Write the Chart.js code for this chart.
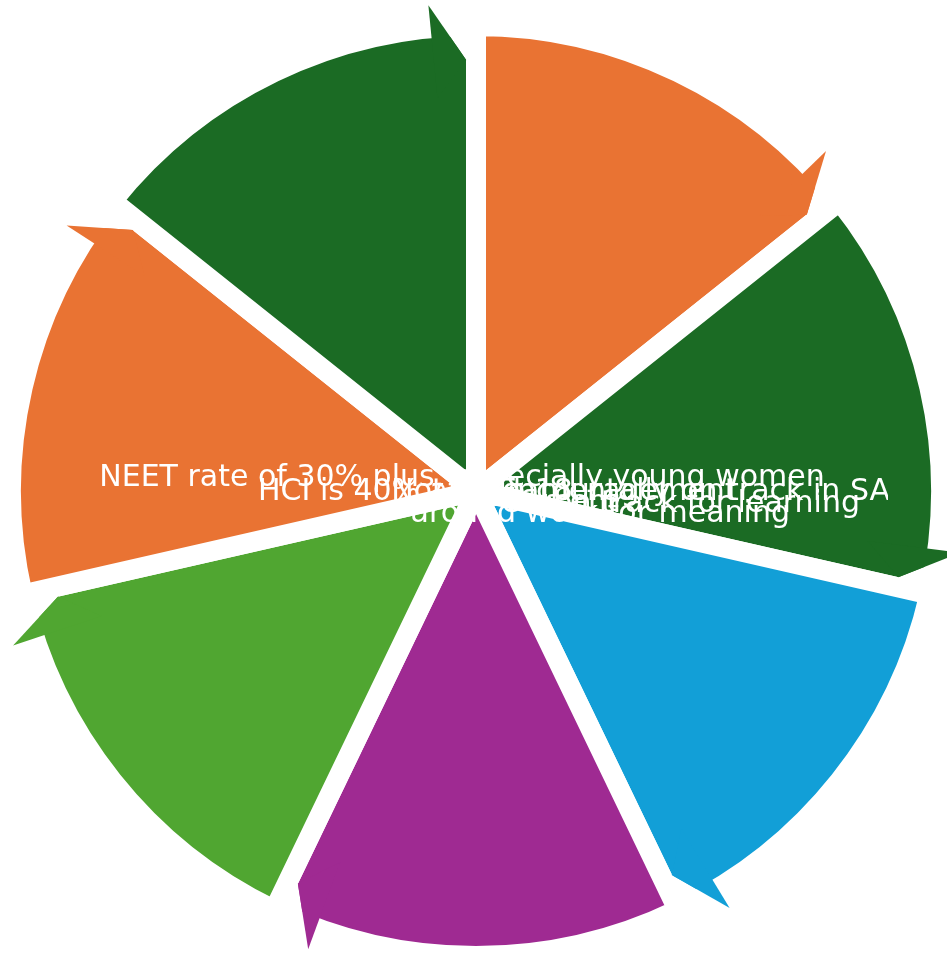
<!DOCTYPE html>
<html>
<head>
<meta charset="utf-8">
<script src="https://cdn.jsdelivr.net/npm/chart.js@4/dist/chart.umd.min.js"></script>
<style>
  html, body { margin: 0; padding: 0; background: #fff; }
  #wrap { width: 947px; height: 953px; }
</style>
</head>
<body>
<div id="wrap"><canvas id="pie"></canvas></div>
<script>
// seven equal segments, clockwise from 12 o'clock
var categories = [
    'NEET rate of 30% plus, especially young women',
    'Not fundamentally on track in SA',
    'Few on track for learning',
    'around work for meaning',
    'HCI is 40% at age 18',
    'Encouragement',
    'Percent'
];
var shares = [1, 1, 1, 1, 1, 1, 1];
var colours = ['#E97333', '#1B6B24', '#129FD7', '#9F2A92', '#50A631', '#E97333', '#1B6B24'];

function pt(cx, cy, a, r) {
    return [cx + Math.cos(a) * r, cy + Math.sin(a) * r];
}

// arrow head at the clockwise end of every segment
var arrowPlugin = {
    id: 'arrows',
    afterDatasetsDraw: function(chart) {
        var ctx = chart.ctx;
        var deg = Math.PI / 180;
        chart.getDatasetMeta(0).data.forEach(function(arc, i) {
            var cx = arc.x, cy = arc.y;
            var r = arc.outerRadius - 10;
            var end = arc.endAngle;
            var b = end - 5.6 * deg;
            var baseOut = pt(cx, cy, b, r + 33);
            var baseIn = pt(cx, cy, b, r - 60);
            var tip = pt(cx, cy, end - 1.3 * deg, r - 24);

            // cut the corner off
            ctx.save();
            ctx.fillStyle = '#fff';
            ctx.beginPath();
            ctx.moveTo.apply(ctx, pt(cx, cy, b, r + 70));
            ctx.lineTo.apply(ctx, pt(cx, cy, end, r + 70));
            ctx.lineTo.apply(ctx, pt(cx, cy, end, r - 24));
            ctx.lineTo.apply(ctx, tip);
            ctx.lineTo.apply(ctx, baseOut);
            ctx.closePath();
            ctx.fill();

            ctx.fillStyle = colours[i];
            ctx.beginPath();
            ctx.moveTo.apply(ctx, baseIn);
            ctx.lineTo.apply(ctx, baseOut);
            ctx.lineTo.apply(ctx, tip);
            ctx.closePath();
            ctx.fill();
            ctx.restore();
        });
    },
    afterDraw: function(chart) {
        var ctx = chart.ctx;
        var arc = chart.getDatasetMeta(0).data[0];
        var cx = arc.x, cy = arc.y;
        // label anchors: [dx, dy, align]
        var spots = [
            [-14, -5, 'center'],
            [414, 9, 'right'],
            [384, 21, 'right'],
            [314, 31, 'right'],
            [-218, 9, 'left'],
            [22, 9, 'left'],
            [30, 20, 'left']
        ];
        ctx.save();
        ctx.fillStyle = '#fff';
        ctx.font = '30px "DejaVu Sans"';
        ctx.textBaseline = 'alphabetic';
        // keep the labels inside the ring
        ctx.beginPath();
        ctx.rect(cx - 460, cy - 60, 872, 120);
        ctx.clip();
        categories.forEach(function(txt, i) {
            ctx.textAlign = spots[i][2];
            ctx.fillText(txt, cx + spots[i][0], cy + spots[i][1]);
        });
        ctx.restore();
    }
};

new Chart(document.getElementById('pie'), {
    type: 'pie',
    data: {
        labels: categories,
        datasets: [{
            data: shares,
            backgroundColor: colours,
            borderColor: '#fff',
            borderWidth: 20
        }]
    },
    options: {
        responsive: true,
        maintainAspectRatio: false,
        animation: false,
        radius: 465,
        layout: { padding: { left: 5, right: 0, top: 29, bottom: 0 } },
        plugins: {
            legend: { display: false },
            tooltip: { enabled: false }
        }
    },
    plugins: [arrowPlugin]
});
</script>
</body>
</html>
